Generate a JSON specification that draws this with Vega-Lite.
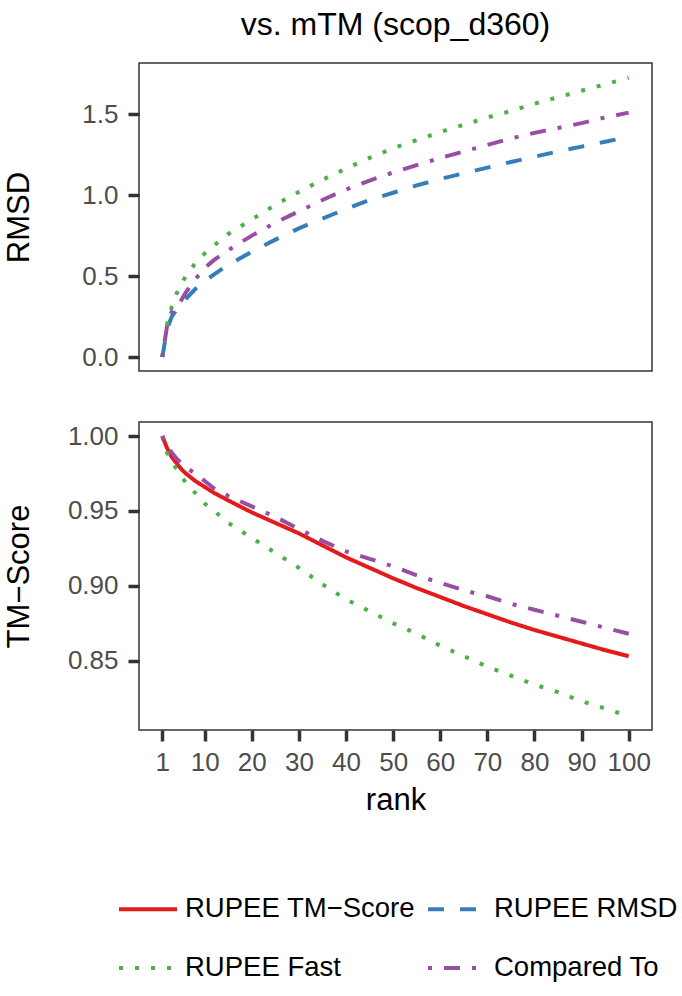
{
  "$schema": "https://vega.github.io/schema/vega-lite/v6.json",
  "background": "white",
  "padding": {"left": 2, "top": 8, "right": 4, "bottom": 4},
  "datasets": {
    "curves": [
      {"metric": "RMSD", "method": "RUPEE RMSD", "rank": 1, "value": 0},
      {"metric": "RMSD", "method": "RUPEE RMSD", "rank": 2, "value": 0.17},
      {"metric": "RMSD", "method": "RUPEE RMSD", "rank": 3, "value": 0.25},
      {"metric": "RMSD", "method": "RUPEE RMSD", "rank": 4, "value": 0.29},
      {"metric": "RMSD", "method": "RUPEE RMSD", "rank": 5, "value": 0.33},
      {"metric": "RMSD", "method": "RUPEE RMSD", "rank": 6, "value": 0.36},
      {"metric": "RMSD", "method": "RUPEE RMSD", "rank": 8, "value": 0.42},
      {"metric": "RMSD", "method": "RUPEE RMSD", "rank": 10, "value": 0.47},
      {"metric": "RMSD", "method": "RUPEE RMSD", "rank": 12, "value": 0.51},
      {"metric": "RMSD", "method": "RUPEE RMSD", "rank": 15, "value": 0.57},
      {"metric": "RMSD", "method": "RUPEE RMSD", "rank": 20, "value": 0.65},
      {"metric": "RMSD", "method": "RUPEE RMSD", "rank": 25, "value": 0.725},
      {"metric": "RMSD", "method": "RUPEE RMSD", "rank": 30, "value": 0.795},
      {"metric": "RMSD", "method": "RUPEE RMSD", "rank": 35, "value": 0.855},
      {"metric": "RMSD", "method": "RUPEE RMSD", "rank": 40, "value": 0.915},
      {"metric": "RMSD", "method": "RUPEE RMSD", "rank": 45, "value": 0.97},
      {"metric": "RMSD", "method": "RUPEE RMSD", "rank": 50, "value": 1.015},
      {"metric": "RMSD", "method": "RUPEE RMSD", "rank": 55, "value": 1.06},
      {"metric": "RMSD", "method": "RUPEE RMSD", "rank": 60, "value": 1.10},
      {"metric": "RMSD", "method": "RUPEE RMSD", "rank": 65, "value": 1.135},
      {"metric": "RMSD", "method": "RUPEE RMSD", "rank": 70, "value": 1.17},
      {"metric": "RMSD", "method": "RUPEE RMSD", "rank": 75, "value": 1.205},
      {"metric": "RMSD", "method": "RUPEE RMSD", "rank": 80, "value": 1.237},
      {"metric": "RMSD", "method": "RUPEE RMSD", "rank": 85, "value": 1.27},
      {"metric": "RMSD", "method": "RUPEE RMSD", "rank": 90, "value": 1.30},
      {"metric": "RMSD", "method": "RUPEE RMSD", "rank": 95, "value": 1.33},
      {"metric": "RMSD", "method": "RUPEE RMSD", "rank": 100, "value": 1.36},

      {"metric": "RMSD", "method": "RUPEE Fast", "rank": 1, "value": 0},
      {"metric": "RMSD", "method": "RUPEE Fast", "rank": 2, "value": 0.20},
      {"metric": "RMSD", "method": "RUPEE Fast", "rank": 3, "value": 0.31},
      {"metric": "RMSD", "method": "RUPEE Fast", "rank": 4, "value": 0.39},
      {"metric": "RMSD", "method": "RUPEE Fast", "rank": 5, "value": 0.45},
      {"metric": "RMSD", "method": "RUPEE Fast", "rank": 6, "value": 0.50},
      {"metric": "RMSD", "method": "RUPEE Fast", "rank": 8, "value": 0.58},
      {"metric": "RMSD", "method": "RUPEE Fast", "rank": 10, "value": 0.64},
      {"metric": "RMSD", "method": "RUPEE Fast", "rank": 12, "value": 0.69},
      {"metric": "RMSD", "method": "RUPEE Fast", "rank": 15, "value": 0.76},
      {"metric": "RMSD", "method": "RUPEE Fast", "rank": 20, "value": 0.85},
      {"metric": "RMSD", "method": "RUPEE Fast", "rank": 25, "value": 0.94},
      {"metric": "RMSD", "method": "RUPEE Fast", "rank": 30, "value": 1.02},
      {"metric": "RMSD", "method": "RUPEE Fast", "rank": 35, "value": 1.095},
      {"metric": "RMSD", "method": "RUPEE Fast", "rank": 40, "value": 1.165},
      {"metric": "RMSD", "method": "RUPEE Fast", "rank": 45, "value": 1.23},
      {"metric": "RMSD", "method": "RUPEE Fast", "rank": 50, "value": 1.29},
      {"metric": "RMSD", "method": "RUPEE Fast", "rank": 55, "value": 1.34},
      {"metric": "RMSD", "method": "RUPEE Fast", "rank": 60, "value": 1.39},
      {"metric": "RMSD", "method": "RUPEE Fast", "rank": 65, "value": 1.435},
      {"metric": "RMSD", "method": "RUPEE Fast", "rank": 70, "value": 1.48},
      {"metric": "RMSD", "method": "RUPEE Fast", "rank": 75, "value": 1.52},
      {"metric": "RMSD", "method": "RUPEE Fast", "rank": 80, "value": 1.565},
      {"metric": "RMSD", "method": "RUPEE Fast", "rank": 85, "value": 1.605},
      {"metric": "RMSD", "method": "RUPEE Fast", "rank": 90, "value": 1.645},
      {"metric": "RMSD", "method": "RUPEE Fast", "rank": 95, "value": 1.685},
      {"metric": "RMSD", "method": "RUPEE Fast", "rank": 100, "value": 1.725},

      {"metric": "RMSD", "method": "Compared To", "rank": 1, "value": 0},
      {"metric": "RMSD", "method": "Compared To", "rank": 2, "value": 0.19},
      {"metric": "RMSD", "method": "Compared To", "rank": 3, "value": 0.28},
      {"metric": "RMSD", "method": "Compared To", "rank": 4, "value": 0.31},
      {"metric": "RMSD", "method": "Compared To", "rank": 5, "value": 0.35},
      {"metric": "RMSD", "method": "Compared To", "rank": 6, "value": 0.40},
      {"metric": "RMSD", "method": "Compared To", "rank": 8, "value": 0.48},
      {"metric": "RMSD", "method": "Compared To", "rank": 10, "value": 0.55},
      {"metric": "RMSD", "method": "Compared To", "rank": 12, "value": 0.60},
      {"metric": "RMSD", "method": "Compared To", "rank": 15, "value": 0.66},
      {"metric": "RMSD", "method": "Compared To", "rank": 20, "value": 0.75},
      {"metric": "RMSD", "method": "Compared To", "rank": 25, "value": 0.83},
      {"metric": "RMSD", "method": "Compared To", "rank": 30, "value": 0.90},
      {"metric": "RMSD", "method": "Compared To", "rank": 35, "value": 0.97},
      {"metric": "RMSD", "method": "Compared To", "rank": 40, "value": 1.035},
      {"metric": "RMSD", "method": "Compared To", "rank": 45, "value": 1.09},
      {"metric": "RMSD", "method": "Compared To", "rank": 50, "value": 1.14},
      {"metric": "RMSD", "method": "Compared To", "rank": 55, "value": 1.185},
      {"metric": "RMSD", "method": "Compared To", "rank": 60, "value": 1.23},
      {"metric": "RMSD", "method": "Compared To", "rank": 65, "value": 1.27},
      {"metric": "RMSD", "method": "Compared To", "rank": 70, "value": 1.31},
      {"metric": "RMSD", "method": "Compared To", "rank": 75, "value": 1.35},
      {"metric": "RMSD", "method": "Compared To", "rank": 80, "value": 1.385},
      {"metric": "RMSD", "method": "Compared To", "rank": 85, "value": 1.415},
      {"metric": "RMSD", "method": "Compared To", "rank": 90, "value": 1.445},
      {"metric": "RMSD", "method": "Compared To", "rank": 95, "value": 1.48},
      {"metric": "RMSD", "method": "Compared To", "rank": 100, "value": 1.51},

      {"metric": "TM", "method": "RUPEE TM−Score", "rank": 1, "value": 1.0},
      {"metric": "TM", "method": "RUPEE TM−Score", "rank": 2, "value": 0.992},
      {"metric": "TM", "method": "RUPEE TM−Score", "rank": 3, "value": 0.986},
      {"metric": "TM", "method": "RUPEE TM−Score", "rank": 4, "value": 0.982},
      {"metric": "TM", "method": "RUPEE TM−Score", "rank": 5, "value": 0.978},
      {"metric": "TM", "method": "RUPEE TM−Score", "rank": 6, "value": 0.975},
      {"metric": "TM", "method": "RUPEE TM−Score", "rank": 8, "value": 0.970},
      {"metric": "TM", "method": "RUPEE TM−Score", "rank": 10, "value": 0.966},
      {"metric": "TM", "method": "RUPEE TM−Score", "rank": 12, "value": 0.962},
      {"metric": "TM", "method": "RUPEE TM−Score", "rank": 15, "value": 0.957},
      {"metric": "TM", "method": "RUPEE TM−Score", "rank": 20, "value": 0.949},
      {"metric": "TM", "method": "RUPEE TM−Score", "rank": 25, "value": 0.942},
      {"metric": "TM", "method": "RUPEE TM−Score", "rank": 30, "value": 0.935},
      {"metric": "TM", "method": "RUPEE TM−Score", "rank": 35, "value": 0.927},
      {"metric": "TM", "method": "RUPEE TM−Score", "rank": 40, "value": 0.919},
      {"metric": "TM", "method": "RUPEE TM−Score", "rank": 45, "value": 0.912},
      {"metric": "TM", "method": "RUPEE TM−Score", "rank": 50, "value": 0.905},
      {"metric": "TM", "method": "RUPEE TM−Score", "rank": 55, "value": 0.8985},
      {"metric": "TM", "method": "RUPEE TM−Score", "rank": 60, "value": 0.8925},
      {"metric": "TM", "method": "RUPEE TM−Score", "rank": 65, "value": 0.8865},
      {"metric": "TM", "method": "RUPEE TM−Score", "rank": 70, "value": 0.881},
      {"metric": "TM", "method": "RUPEE TM−Score", "rank": 75, "value": 0.8755},
      {"metric": "TM", "method": "RUPEE TM−Score", "rank": 80, "value": 0.8705},
      {"metric": "TM", "method": "RUPEE TM−Score", "rank": 85, "value": 0.866},
      {"metric": "TM", "method": "RUPEE TM−Score", "rank": 90, "value": 0.8615},
      {"metric": "TM", "method": "RUPEE TM−Score", "rank": 95, "value": 0.857},
      {"metric": "TM", "method": "RUPEE TM−Score", "rank": 100, "value": 0.853},

      {"metric": "TM", "method": "RUPEE Fast", "rank": 1, "value": 1.0},
      {"metric": "TM", "method": "RUPEE Fast", "rank": 2, "value": 0.989},
      {"metric": "TM", "method": "RUPEE Fast", "rank": 3, "value": 0.983},
      {"metric": "TM", "method": "RUPEE Fast", "rank": 4, "value": 0.978},
      {"metric": "TM", "method": "RUPEE Fast", "rank": 5, "value": 0.973},
      {"metric": "TM", "method": "RUPEE Fast", "rank": 6, "value": 0.969},
      {"metric": "TM", "method": "RUPEE Fast", "rank": 8, "value": 0.962},
      {"metric": "TM", "method": "RUPEE Fast", "rank": 10, "value": 0.955},
      {"metric": "TM", "method": "RUPEE Fast", "rank": 12, "value": 0.950},
      {"metric": "TM", "method": "RUPEE Fast", "rank": 15, "value": 0.942},
      {"metric": "TM", "method": "RUPEE Fast", "rank": 20, "value": 0.932},
      {"metric": "TM", "method": "RUPEE Fast", "rank": 25, "value": 0.922},
      {"metric": "TM", "method": "RUPEE Fast", "rank": 30, "value": 0.912},
      {"metric": "TM", "method": "RUPEE Fast", "rank": 35, "value": 0.901},
      {"metric": "TM", "method": "RUPEE Fast", "rank": 40, "value": 0.891},
      {"metric": "TM", "method": "RUPEE Fast", "rank": 45, "value": 0.883},
      {"metric": "TM", "method": "RUPEE Fast", "rank": 50, "value": 0.875},
      {"metric": "TM", "method": "RUPEE Fast", "rank": 55, "value": 0.868},
      {"metric": "TM", "method": "RUPEE Fast", "rank": 60, "value": 0.860},
      {"metric": "TM", "method": "RUPEE Fast", "rank": 65, "value": 0.853},
      {"metric": "TM", "method": "RUPEE Fast", "rank": 70, "value": 0.846},
      {"metric": "TM", "method": "RUPEE Fast", "rank": 75, "value": 0.840},
      {"metric": "TM", "method": "RUPEE Fast", "rank": 80, "value": 0.834},
      {"metric": "TM", "method": "RUPEE Fast", "rank": 85, "value": 0.829},
      {"metric": "TM", "method": "RUPEE Fast", "rank": 90, "value": 0.823},
      {"metric": "TM", "method": "RUPEE Fast", "rank": 95, "value": 0.818},
      {"metric": "TM", "method": "RUPEE Fast", "rank": 100, "value": 0.813},

      {"metric": "TM", "method": "Compared To", "rank": 1, "value": 1.0},
      {"metric": "TM", "method": "Compared To", "rank": 2, "value": 0.993},
      {"metric": "TM", "method": "Compared To", "rank": 3, "value": 0.989},
      {"metric": "TM", "method": "Compared To", "rank": 4, "value": 0.985},
      {"metric": "TM", "method": "Compared To", "rank": 5, "value": 0.982},
      {"metric": "TM", "method": "Compared To", "rank": 6, "value": 0.979},
      {"metric": "TM", "method": "Compared To", "rank": 8, "value": 0.975},
      {"metric": "TM", "method": "Compared To", "rank": 10, "value": 0.970},
      {"metric": "TM", "method": "Compared To", "rank": 12, "value": 0.965},
      {"metric": "TM", "method": "Compared To", "rank": 15, "value": 0.960},
      {"metric": "TM", "method": "Compared To", "rank": 20, "value": 0.953},
      {"metric": "TM", "method": "Compared To", "rank": 25, "value": 0.946},
      {"metric": "TM", "method": "Compared To", "rank": 30, "value": 0.938},
      {"metric": "TM", "method": "Compared To", "rank": 35, "value": 0.930},
      {"metric": "TM", "method": "Compared To", "rank": 40, "value": 0.923},
      {"metric": "TM", "method": "Compared To", "rank": 45, "value": 0.918},
      {"metric": "TM", "method": "Compared To", "rank": 50, "value": 0.913},
      {"metric": "TM", "method": "Compared To", "rank": 55, "value": 0.907},
      {"metric": "TM", "method": "Compared To", "rank": 60, "value": 0.902},
      {"metric": "TM", "method": "Compared To", "rank": 65, "value": 0.897},
      {"metric": "TM", "method": "Compared To", "rank": 70, "value": 0.893},
      {"metric": "TM", "method": "Compared To", "rank": 75, "value": 0.888},
      {"metric": "TM", "method": "Compared To", "rank": 80, "value": 0.884},
      {"metric": "TM", "method": "Compared To", "rank": 85, "value": 0.880},
      {"metric": "TM", "method": "Compared To", "rank": 90, "value": 0.876},
      {"metric": "TM", "method": "Compared To", "rank": 95, "value": 0.872},
      {"metric": "TM", "method": "Compared To", "rank": 100, "value": 0.868}
    ]
  },
  "data": {"name": "curves"},
  "spacing": 49,
  "vconcat": [
    {
      "width": 513,
      "height": 308,
      "title": {"text": "vs. mTM (scop_d360)", "anchor": "middle", "frame": "group", "fontSize": 32, "font": "Liberation Sans", "fontWeight": "normal", "color": "#000000", "offset": 21},
      "transform": [{"filter": "datum.metric === 'RMSD'"}],
      "mark": {"type": "line", "strokeWidth": 4, "strokeCap": "butt", "clip": true},
      "encoding": {
        "x": {"field": "rank", "type": "quantitative", "scale": {"domain": [-3.95, 104.95], "nice": false, "zero": false}, "axis": null},
        "y": {"field": "value", "type": "quantitative", "scale": {"domain": [-0.0865, 1.8165], "nice": false, "zero": false}, "axis": {"title": "RMSD", "values": [0, 0.5, 1, 1.5], "format": ".1f"}},
        "color": {"field": "method", "type": "nominal", "scale": {"domain": ["RUPEE TM−Score", "RUPEE RMSD", "RUPEE Fast", "Compared To"], "range": ["#E41A1C", "#377EB8", "#4DAF4A", "#984EA3"]}, "legend": {"title": null}},
        "strokeDash": {"field": "method", "type": "nominal", "scale": {"domain": ["RUPEE TM−Score", "RUPEE RMSD", "RUPEE Fast", "Compared To"], "range": [[1, 0], [16, 16], [4, 12], [4, 12, 16, 12]]}, "legend": {"title": null}}
      }
    },
    {
      "width": 513,
      "height": 308,
      "transform": [{"filter": "datum.metric === 'TM'"}],
      "mark": {"type": "line", "strokeWidth": 4, "strokeCap": "butt", "clip": true},
      "encoding": {
        "x": {"field": "rank", "type": "quantitative", "scale": {"domain": [-3.95, 104.95], "nice": false, "zero": false}, "axis": {"title": "rank", "values": [1, 10, 20, 30, 40, 50, 60, 70, 80, 90, 100], "format": "d", "labelFlush": false, "labelOverlap": false, "labelPadding": 8, "titlePadding": 10}},
        "y": {"field": "value", "type": "quantitative", "scale": {"domain": [0.8037, 1.0094], "nice": false, "zero": false}, "axis": {"title": "TM−Score", "values": [0.85, 0.9, 0.95, 1.0], "format": ".2f"}},
        "color": {"field": "method", "type": "nominal", "scale": {"domain": ["RUPEE TM−Score", "RUPEE RMSD", "RUPEE Fast", "Compared To"], "range": ["#E41A1C", "#377EB8", "#4DAF4A", "#984EA3"]}, "legend": {"title": null}},
        "strokeDash": {"field": "method", "type": "nominal", "scale": {"domain": ["RUPEE TM−Score", "RUPEE RMSD", "RUPEE Fast", "Compared To"], "range": [[1, 0], [16, 16], [4, 12], [4, 12, 16, 12]]}, "legend": {"title": null}}
      }
    }
  ],
  "config": {
    "font": "Liberation Sans",
    "view": {"stroke": "#333333", "strokeWidth": 1.5},
    "axis": {
      "grid": false,
      "domain": false,
      "ticks": true,
      "tickColor": "#333333",
      "tickWidth": 3.5,
      "tickSize": 11,
      "labelFont": "Liberation Sans",
      "labelFontSize": 26,
      "labelColor": "#4D4D4D",
      "labelPadding": 10,
      "titleFont": "Liberation Sans",
      "titleFontSize": 31,
      "titleFontWeight": "normal",
      "titleColor": "#000000"
    },
    "axisY": {"titleAngle": 270, "titleBaseline": "alphabetic", "titleX": -111},
    "legend": {
      "orient": "none",
      "legendX": -22,
      "legendY": 815,
      "columns": 2,
      "direction": "horizontal",
      "symbolType": "stroke",
      "symbolSize": 3364,
      "symbolStrokeWidth": 4,
      "labelFont": "Liberation Sans",
      "labelFontSize": 27.5,
      "labelColor": "#000000",
      "labelOffset": 6,
      "labelLimit": 400,
      "columnPadding": 5,
      "rowPadding": 14
    }
  }
}
